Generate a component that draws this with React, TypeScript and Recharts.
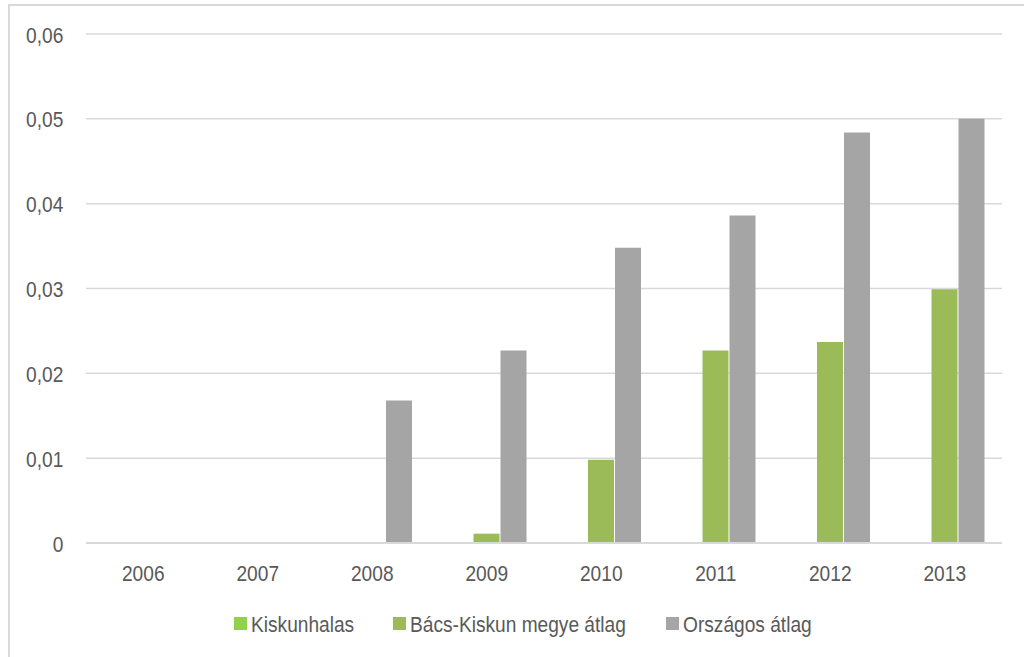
import { Bar, BarChart, CartesianGrid, Legend, XAxis, YAxis } from "recharts";

const years = ["2006", "2007", "2008", "2009", "2010", "2011", "2012", "2013"];
const kiskunhalas = [0, 0, 0, 0, 0, 0, 0, 0];
const bacsKiskun = [0, 0, 0, 0.0011, 0.0098, 0.0227, 0.0237, 0.0299];
const orszagos = [0, 0, 0.0168, 0.0227, 0.0348, 0.0386, 0.0484, 0.05];
const yTicks = [0, 0.01, 0.02, 0.03, 0.04, 0.05, 0.06];

const seriesNames = ["Kiskunhalas", "Bács-Kiskun megye átlag", "Országos átlag"];
const seriesColors = ["#92D050", "#9BBB59", "#A5A5A5"];
const legendX = [234, 393, 666];

const data = years.map((year, i) => ({
  year,
  kiskunhalas: kiskunhalas[i],
  bacsKiskun: bacsKiskun[i],
  orszagos: orszagos[i],
}));

const textColor = "#595959";
const gridColor = "#d9d9d9";
const font = "'Liberation Sans', Arial, sans-serif";
const fontSize = 22;
// nincs Arial Narrow, ezért vízszintesen összenyomjuk
const squeeze = 0.87;

// y tengely: tizedesvessző, a nulla simán "0"
const formatTick = (v: number) => (v === 0 ? "0" : v.toFixed(2).replace(".", ","));

function XTick({ x, y, payload }: any) {
  return (
    <g transform={`translate(${x},${y + 37.5}) scale(${squeeze},1)`}>
      <text x={0} y={0} textAnchor="middle" fill={textColor} fontSize={fontSize} fontFamily={font}>
        {payload.value}
      </text>
    </g>
  );
}

function YTick({ x, y, payload }: any) {
  return (
    <g transform={`translate(${x - 22.7},${y + 8.5}) scale(${squeeze},1)`}>
      <text x={0} y={0} textAnchor="end" fill={textColor} fontSize={fontSize} fontFamily={font}>
        {formatTick(payload.value)}
      </text>
    </g>
  );
}

function LegendContent() {
  return (
    <svg width={1024} height={30} style={{ display: "block" }}>
      {seriesNames.map((name, i) => (
        <g key={name}>
          <rect x={legendX[i]} y={7} width={13} height={13} fill={seriesColors[i]} />
          <g transform={`translate(${legendX[i] + 17},${21.5}) scale(${squeeze},1)`}>
            <text x={0} y={0} fill={textColor} fontSize={fontSize} fontFamily={font}>
              {name}
            </text>
          </g>
        </g>
      ))}
    </svg>
  );
}

export default function App() {
  return (
    <div style={{ position: "fixed", left: 0, top: 0, width: 1024, height: 657, background: "#fff", overflow: "hidden" }}>
      <div style={{ position: "absolute", left: 8, top: 4, width: 1040, height: 700, border: `2px solid ${gridColor}` }} />
      <div style={{ position: "absolute", left: 0, top: 0 }}>
        <BarChart
          width={1024}
          height={657}
          data={data}
          margin={{ top: 34, right: 22, left: 0, bottom: 17 }}
          barSize={26}
          barGap={1}
        >
          <CartesianGrid vertical={false} stroke={gridColor} strokeWidth={1.5} />
          <XAxis
            dataKey="year"
            height={67}
            axisLine={{ stroke: gridColor, strokeWidth: 2 }}
            tickLine={false}
            tickSize={0}
            tickMargin={0}
            tick={<XTick />}
          />
          <YAxis
            width={86}
            domain={[0, 0.06]}
            ticks={yTicks}
            axisLine={false}
            tickLine={false}
            tickSize={0}
            tickMargin={0}
            tick={<YTick />}
          />
          <Legend verticalAlign="bottom" height={30} wrapperStyle={{ left: 0, width: 1024 }} content={<LegendContent />} />
          <Bar dataKey="kiskunhalas" name={seriesNames[0]} fill={seriesColors[0]} isAnimationActive={false} />
          <Bar dataKey="bacsKiskun" name={seriesNames[1]} fill={seriesColors[1]} isAnimationActive={false} />
          <Bar dataKey="orszagos" name={seriesNames[2]} fill={seriesColors[2]} isAnimationActive={false} />
        </BarChart>
      </div>
    </div>
  );
}
